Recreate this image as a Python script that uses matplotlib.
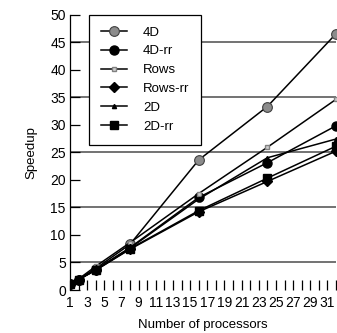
import numpy as np
import matplotlib
matplotlib.use("Agg")
import matplotlib.pyplot as plt

plt.rcParams['font.family'] = ['Liberation Sans', 'DejaVu Sans']

# processors
procs = [1, 2, 4, 8, 16, 24, 32]

# speedup per version
s_4d = [1.0, 1.9, 3.9, 8.3, 23.6, 33.3, 46.5]
s_4d_rr = [1.0, 1.9, 3.7, 7.7, 16.8, 23.1, 29.8]
s_rows = [1.0, 2.0, 4.3, 8.6, 17.5, 25.9, 34.6]
s_rows_rr = [1.0, 1.9, 3.6, 7.4, 14.2, 19.7, 25.2]
s_2d = [1.0, 1.9, 3.7, 7.6, 16.5, 24.0, 27.4]
s_2d_rr = [1.0, 1.9, 3.6, 7.5, 14.4, 20.3, 26.1]

fig = plt.figure(figsize=(3.37, 3.33), dpi=100)
ax = fig.add_axes([70 / 337, 43 / 333, 266 / 337, 275.5 / 333])

for y in [5, 15, 25, 35, 45]:
    ax.axhline(y, color='#5a5a5a', lw=1.2, zorder=1)

lw = 1.1
ax.plot(procs, s_4d, color='black', lw=lw, marker='o', ms=7,
        mfc='#8c8c8c', mec='#404040', mew=0.8, label='4D', zorder=3)
ax.plot(procs, s_4d_rr, color='black', lw=lw, marker='o', ms=6.5,
        mfc='black', mec='black', label='4D-rr', zorder=3)
ax.plot(procs, s_rows, color='black', lw=lw, marker='s', ms=3.5,
        mfc='#d0d0d0', mec='#808080', mew=1, label='Rows', zorder=3)
ax.plot(procs, s_rows_rr, color='black', lw=lw, marker='D', ms=5,
        mfc='black', mec='black', label='Rows-rr', zorder=3)
ax.plot(procs, s_2d, color='black', lw=lw, marker='^', ms=3,
        mfc='black', mec='black', label='2D', zorder=3)
ax.plot(procs, s_2d_rr, color='black', lw=lw, marker='s', ms=6,
        mfc='black', mec='black', label='2D-rr', zorder=3)

ax.set_xlim(1, 32)
ax.set_ylim(0, 50)
ax.set_xticks(range(1, 33))
ax.set_xticklabels([str(i) if i % 2 == 1 else '' for i in range(1, 33)])
ax.set_yticks(range(0, 51, 5))
ax.tick_params(axis='x', direction='in', length=7, width=0.9, pad=4, labelsize=10)
ax.tick_params(axis='y', direction='in', length=7, width=0.9, pad=3, labelsize=10)

for side in ['top', 'right', 'bottom']:
    ax.spines[side].set_visible(False)
ax.spines['left'].set_linewidth(0.9)

ax.set_xlabel('Number of processors', fontsize=9.5, labelpad=7)
ax.set_ylabel('Speedup', fontsize=9.5, labelpad=9)

leg = ax.legend(loc='upper left', bbox_to_anchor=(19 / 266, 1.0),
                borderaxespad=0, fontsize=9.5, handlelength=2.0,
                handletextpad=1.2, labelspacing=0.5, borderpad=0.9,
                fancybox=False, framealpha=1, edgecolor='black')
leg.get_frame().set_linewidth(0.9)
leg.set_zorder(5)

fig.savefig('out.png', dpi=100)
